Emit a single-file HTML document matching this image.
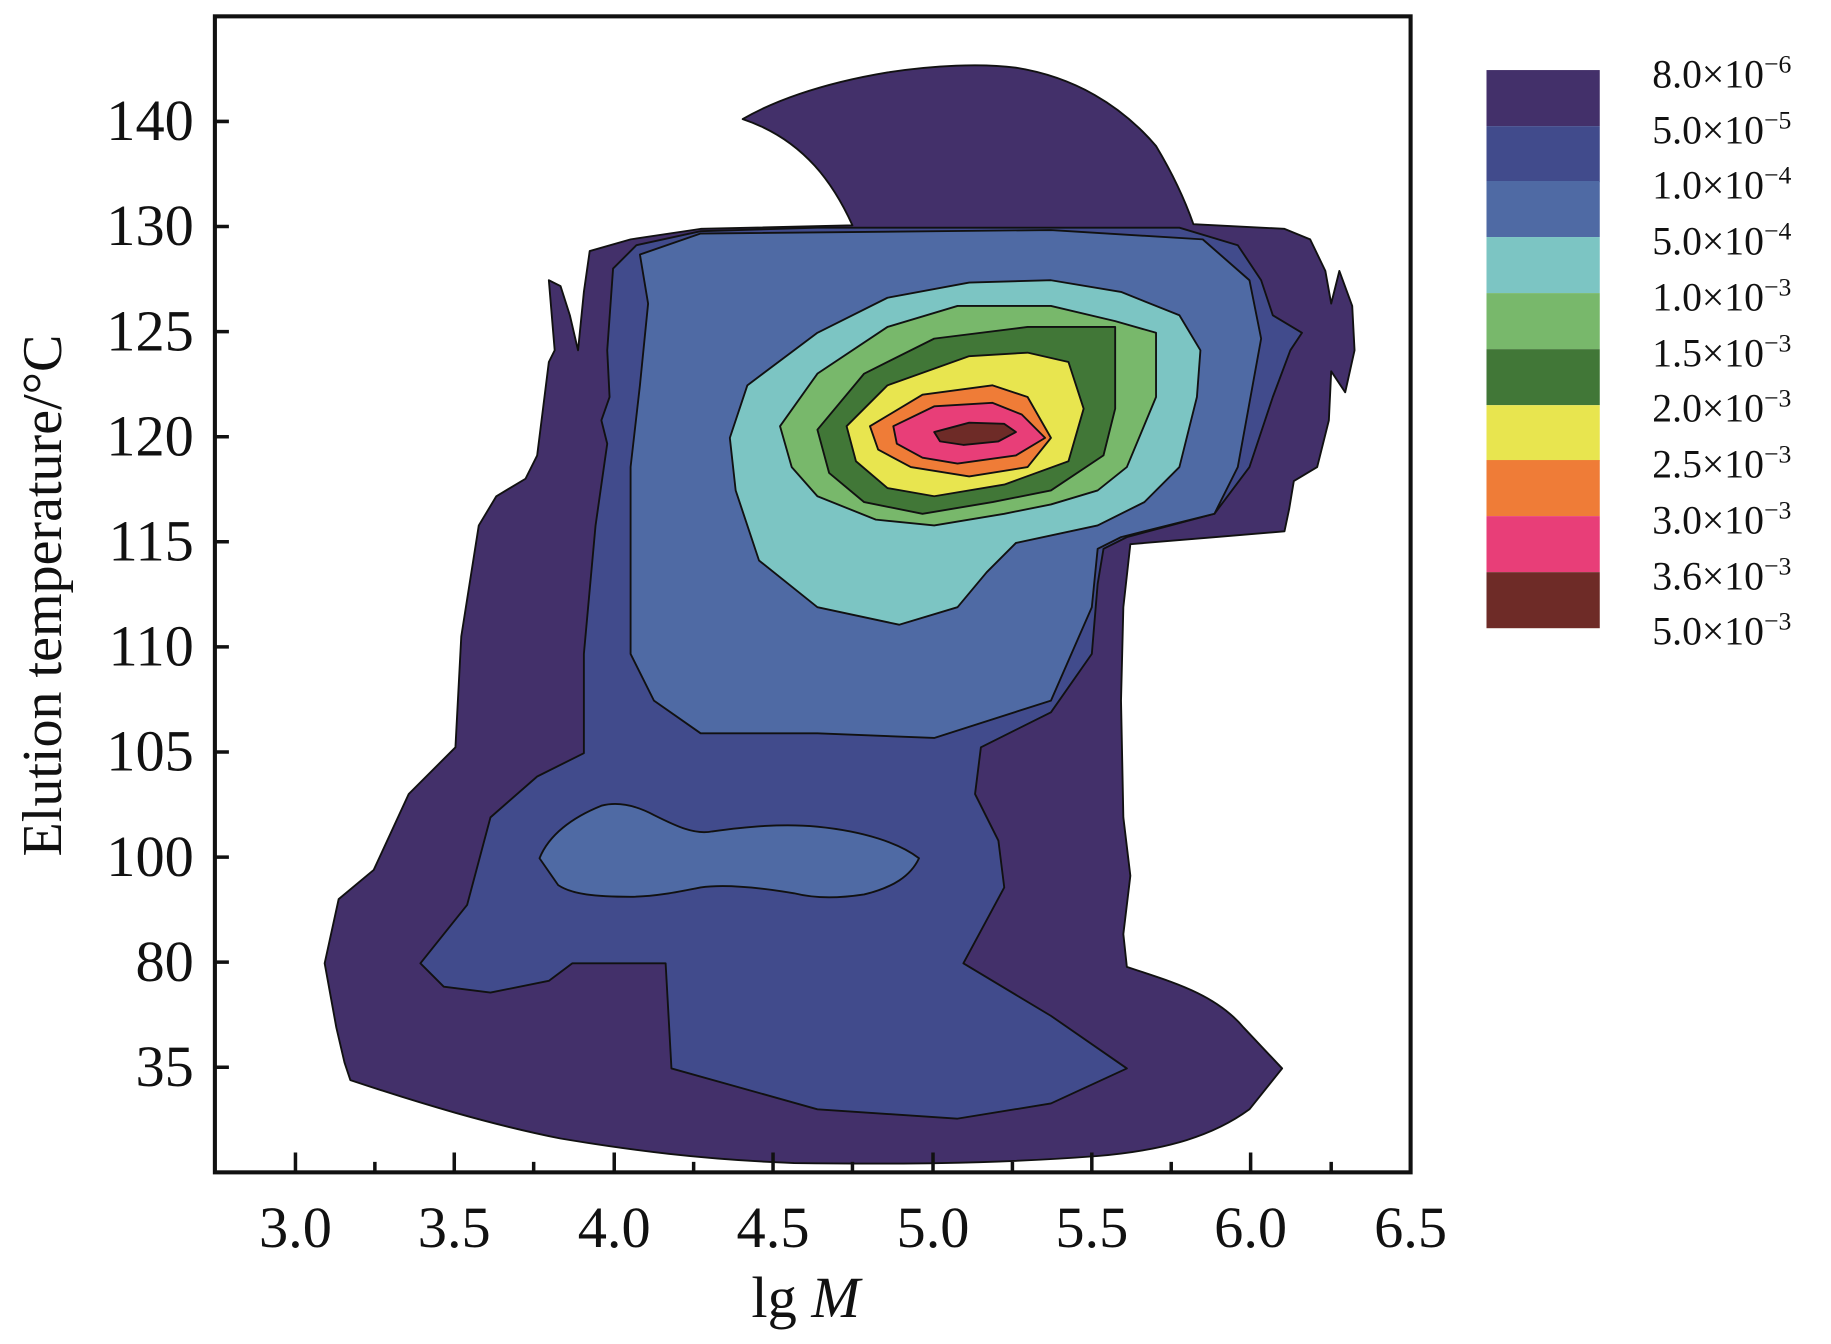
<!DOCTYPE html>
<html><head><meta charset="utf-8"><style>html,body{margin:0;padding:0;background:#fff}svg{display:block}text{font-family:"Liberation Serif","Times New Roman",serif}</style></head>
<body>
<svg width="1831" height="1344" viewBox="0 0 1568 1151" xmlns="http://www.w3.org/2000/svg">
<g stroke="#111" stroke-width="1.6" stroke-linejoin="round">
<path fill="#43306a" d="M636,102 C660,88 700,72 760,62 C800,56 840,54 870,58 C920,66 960,90 990,125 C1005,150 1015,172 1022,192 L1100,196 L1122,205 L1135,232 L1140,260 L1147,232 L1158,262 L1160,300 L1152,336 L1140,318 L1138,360 L1128,400 L1108,412 L1104,436 L1100,455 L1040,460 L968,466 L962,520 L960,600 L962,700 L968,750 L962,800 L965,828 C1000,840 1040,850 1065,880 L1098,915 L1070,950 C1040,972 1000,985 940,990 C850,997 760,997 680,996 C600,993 540,985 480,975 C420,963 360,945 300,925 L295,910 L288,880 L278,825 L290,770 L320,745 L350,680 L390,640 L395,545 L410,450 L425,425 L450,410 L460,390 L470,310 L475,300 L470,240 L480,245 L488,270 L495,300 L500,250 L505,215 L540,205 L600,196 L730,193 C715,160 690,120 636,102 Z"/>
<path fill="#414b8c" d="M525,230 L545,210 L600,198 L700,195 L1010,195 L1060,210 L1080,240 L1090,270 L1115,285 L1105,300 L1090,340 L1070,400 L1040,440 L965,460 L945,470 L940,500 L935,560 L900,610 L840,640 L835,680 L855,720 L860,760 L825,825 L900,870 L965,915 L900,945 L820,958 L700,950 L575,915 L570,825 L490,825 L470,840 L420,850 L380,845 L360,825 L400,775 L420,700 L460,665 L500,645 L500,560 L510,450 L520,380 L515,360 L522,340 L520,300 Z"/>
<path fill="#4f6aa4" d="M548,218 L600,200 L900,197 L1030,205 L1070,240 L1080,290 L1060,400 L1040,440 L960,460 L940,470 L935,520 L900,600 L800,632 L700,628 L600,628 L560,600 L540,560 L540,400 L548,330 L555,260 Z"/>
<path fill="#4f6aa4" d="M462,735 C470,715 490,700 515,690 C530,686 545,690 560,698 C580,708 595,715 610,712 C640,708 670,705 700,708 C740,712 770,722 787,735 C780,750 765,760 740,766 C720,769 700,770 680,765 C650,760 620,757 600,760 C580,764 560,768 540,768 C510,768 490,766 478,758 Z"/>
<path fill="#7cc5c3" d="M625,375 L640,330 L700,285 L760,255 L830,242 L900,240 L960,250 L1010,270 L1028,300 L1025,340 L1010,400 L980,430 L940,450 L870,465 L845,490 L820,520 L770,535 L700,520 L650,480 L630,420 Z"/>
<path fill="#78b86b" d="M668,365 L700,320 L760,280 L820,262 L900,262 L955,275 L990,285 L990,340 L965,400 L940,420 L900,432 L860,440 L800,450 L750,445 L700,425 L678,400 Z"/>
<path fill="#417737" d="M700,368 L740,320 L800,290 L880,280 L955,280 L955,350 L945,390 L900,420 L850,430 L790,440 L740,430 L710,405 Z"/>
<path fill="#e8e54f" d="M725,365 L760,330 L830,305 L880,302 L915,310 L928,350 L915,395 L860,415 L800,425 L760,418 L733,395 Z"/>
<path fill="#ef7c37" d="M745,365 L790,338 L850,330 L880,340 L900,375 L880,400 L830,408 L780,400 L752,385 Z"/>
<path fill="#e83e78" d="M765,365 L800,348 L850,345 L875,355 L895,375 L870,390 L820,397 L790,392 L768,380 Z"/>
<path fill="#6e2b27" d="M800,370 L830,362 L860,363 L870,370 L855,378 L825,381 L805,378 Z"/>
</g>
<rect x="184" y="14" width="1024" height="990" fill="none" stroke="#111" stroke-width="3.5"/>
<g stroke="#111" stroke-width="3">
<path d="M253,1004v-17M321,1004v-9M389,1004v-17M457,1004v-9M526,1004v-17M594,1004v-9M662,1004v-17M730,1004v-9M799,1004v-17M867,1004v-9M935,1004v-17M1003,1004v-9M1071,1004v-17M1140,1004v-9"/>
<path d="M184,104h12M184,194h12M184,284h12M184,374h12M184,464h12M184,554h12M184,644h12M184,734h12M184,824h12M184,914h12"/>
</g>
<g font-size="50" fill="#111" text-anchor="middle">
<text x="253" y="1068">3.0</text><text x="389" y="1068">3.5</text><text x="526" y="1068">4.0</text><text x="662" y="1068">4.5</text><text x="799" y="1068">5.0</text><text x="935" y="1068">5.5</text><text x="1071" y="1068">6.0</text><text x="1208" y="1068">6.5</text>
<text x="690" y="1128">lg <tspan font-style="italic">M</tspan></text>
</g>
<g font-size="50" fill="#111" text-anchor="end">
<text x="166" y="120">140</text><text x="166" y="210">130</text><text x="166" y="300">125</text><text x="166" y="390">120</text><text x="166" y="480">115</text><text x="166" y="570">110</text><text x="166" y="660">105</text><text x="166" y="750">100</text><text x="166" y="840">80</text><text x="166" y="930">35</text>
</g>
<text transform="translate(52,510) rotate(-90)" font-size="48" text-anchor="middle" fill="#111">Elution temperature/°C</text>
<g>
<rect x="1273" y="60" width="97" height="48" fill="#43306a"/>
<rect x="1273" y="108" width="97" height="48" fill="#414b8c"/>
<rect x="1273" y="155" width="97" height="48" fill="#4f6aa4"/>
<rect x="1273" y="203" width="97" height="48" fill="#7cc5c3"/>
<rect x="1273" y="251" width="97" height="48" fill="#78b86b"/>
<rect x="1273" y="299" width="97" height="48" fill="#417737"/>
<rect x="1273" y="347" width="97" height="48" fill="#e8e54f"/>
<rect x="1273" y="394" width="97" height="48" fill="#ef7c37"/>
<rect x="1273" y="442" width="97" height="48" fill="#e83e78"/>
<rect x="1273" y="490" width="97" height="48" fill="#6e2b27"/>
</g>
<g font-size="34" fill="#111">
<text x="1415" y="75">8.0×10<tspan font-size="22" dy="-13">−6</tspan></text>
<text x="1415" y="123">5.0×10<tspan font-size="22" dy="-13">−5</tspan></text>
<text x="1415" y="170">1.0×10<tspan font-size="22" dy="-13">−4</tspan></text>
<text x="1415" y="218">5.0×10<tspan font-size="22" dy="-13">−4</tspan></text>
<text x="1415" y="266">1.0×10<tspan font-size="22" dy="-13">−3</tspan></text>
<text x="1415" y="314">1.5×10<tspan font-size="22" dy="-13">−3</tspan></text>
<text x="1415" y="361">2.0×10<tspan font-size="22" dy="-13">−3</tspan></text>
<text x="1415" y="409">2.5×10<tspan font-size="22" dy="-13">−3</tspan></text>
<text x="1415" y="457">3.0×10<tspan font-size="22" dy="-13">−3</tspan></text>
<text x="1415" y="505">3.6×10<tspan font-size="22" dy="-13">−3</tspan></text>
<text x="1415" y="552">5.0×10<tspan font-size="22" dy="-13">−3</tspan></text>
</g>
</svg>
</body></html>
